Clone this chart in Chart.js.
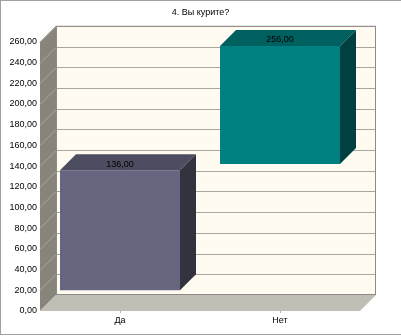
<!DOCTYPE html>
<html>
<head>
<meta charset="utf-8">
<script src="https://cdn.jsdelivr.net/npm/chart.js@4.4.0/dist/chart.umd.min.js"></script>
<style>
  html, body { margin: 0; padding: 0; background: #fff; }
  canvas { display: block; }
</style>
</head>
<body>
<canvas id="c" width="401" height="336"></canvas>
<script>
// Survey question and answers
const title = '4. Вы курите?';
const categories = ['Да', 'Нет'];
// Each box spans from its lower edge to the answer count
const barBottoms = [20, 142];
const barTops = [136, 256];
// Value axis
const yMin = 0;
const yMax = 260;
const yStep = 20;

const frontColors = ['#666680', '#008080'];
const topColors = ['#4d4d61', '#006060'];
const sideColors = ['#33333f', '#004040'];

const DEPTH = 16;
const FONT = '"Liberation Sans", Arial, sans-serif';

function fmt(v) {
  return v.toFixed(2).replace('.', ',');
}

// Back wall, left wall, floor and gridlines drawn with a depth offset
const walls = {
  id: 'walls',
  beforeDatasetsDraw(chart) {
    const { ctx, chartArea: a, scales: { y } } = chart;
    const d = DEPTH;
    ctx.save();
    // back wall
    ctx.fillStyle = '#fffbf0';
    ctx.fillRect(a.left + d, a.top - d, a.right - a.left, a.bottom - a.top);
    // left wall
    ctx.fillStyle = '#86847b';
    ctx.beginPath();
    ctx.moveTo(a.left, a.top);
    ctx.lineTo(a.left + d, a.top - d);
    ctx.lineTo(a.left + d, a.bottom - d);
    ctx.lineTo(a.left, a.bottom);
    ctx.closePath();
    ctx.fill();
    // floor
    ctx.fillStyle = '#c1beb5';
    ctx.beginPath();
    ctx.moveTo(a.left, a.bottom);
    ctx.lineTo(a.left + d, a.bottom - d);
    ctx.lineTo(a.right + d, a.bottom - d);
    ctx.lineTo(a.right, a.bottom);
    ctx.closePath();
    ctx.fill();
    // gridlines
    ctx.lineWidth = 1;
    for (let v = yMin + yStep; v <= yMax; v += yStep) {
      const py = Math.round(y.getPixelForValue(v)) + 0.5;
      ctx.strokeStyle = '#a8a6a2';
      ctx.beginPath();
      ctx.moveTo(a.left + d, py - d);
      ctx.lineTo(a.right + d, py - d);
      ctx.stroke();
      ctx.strokeStyle = '#aaa89f';
      ctx.beginPath();
      ctx.moveTo(a.left, py);
      ctx.lineTo(a.left + d, py - d);
      ctx.stroke();
    }
    // back wall outline
    ctx.strokeStyle = '#8c8a86';
    ctx.strokeRect(a.left + d + 0.5, a.top - d + 0.5, a.right - a.left - 1, a.bottom - a.top - 1);
    // category tick marks
    const x = chart.scales.x;
    ctx.strokeStyle = '#b0b0b0';
    categories.forEach((c, i) => {
      const px = Math.round(x.getPixelForValue(i)) + 0.5;
      ctx.beginPath();
      ctx.moveTo(px, a.bottom);
      ctx.lineTo(px, a.bottom + 2);
      ctx.stroke();
    });
    ctx.restore();
  },
  afterDatasetsDraw(chart) {
    const { ctx } = chart;
    const d = DEPTH;
    const meta = chart.getDatasetMeta(0);
    ctx.save();
    meta.data.forEach((bar, i) => {
      const { x, y, base, width } = bar.getProps(['x', 'y', 'base', 'width'], true);
      const l = x - width / 2, r = x + width / 2;
      const top = Math.min(y, base), bot = Math.max(y, base);
      // top face
      ctx.fillStyle = topColors[i];
      ctx.beginPath();
      ctx.moveTo(l, top);
      ctx.lineTo(l + d, top - d);
      ctx.lineTo(r + d, top - d);
      ctx.lineTo(r, top);
      ctx.closePath();
      ctx.fill();
      // side face
      ctx.fillStyle = sideColors[i];
      ctx.beginPath();
      ctx.moveTo(r, top);
      ctx.lineTo(r + d, top - d);
      ctx.lineTo(r + d, bot - d);
      ctx.lineTo(r, bot);
      ctx.closePath();
      ctx.fill();
      // value label
      ctx.fillStyle = '#000';
      ctx.font = '9px ' + FONT;
      ctx.textAlign = 'center';
      ctx.textBaseline = 'middle';
      ctx.fillText(fmt(barTops[i]), x, top - 6);
    });
    ctx.restore();
  },
  afterDraw(chart) {
    const { ctx } = chart;
    ctx.save();
    ctx.strokeStyle = '#a0a0a0';
    ctx.lineWidth = 1;
    ctx.strokeRect(0.5, 0.5, 401, 334);
    ctx.restore();
  }
};

new Chart(document.getElementById('c'), {
  type: 'bar',
  data: {
    labels: categories,
    datasets: [{
      data: categories.map((c, i) => [barBottoms[i], barTops[i]]),
      backgroundColor: frontColors,
      borderWidth: 0,
      barPercentage: 0.75,
      categoryPercentage: 1
    }]
  },
  options: {
    responsive: false,
    animation: false,
    devicePixelRatio: 1,
    layout: { padding: 0 },
    plugins: {
      legend: { display: false },
      tooltip: { enabled: false },
      title: {
        display: true,
        text: title,
        color: '#000',
        font: { family: FONT, size: 9, weight: 'normal' },
        padding: { top: 7, bottom: 24 }
      }
    },
    scales: {
      x: {
        grid: { display: false, drawTicks: false },
        border: { display: false },
        ticks: { color: '#000', font: { family: FONT, size: 9 }, padding: 4 },
        afterFit(s) { s.height = 25; }
      },
      y: {
        min: yMin,
        max: yMax,
        grid: { display: false, drawTicks: false },
        border: { display: false },
        ticks: {
          stepSize: yStep,
          color: '#000',
          font: { family: FONT, size: 9 },
          padding: 3,
          callback: (v) => fmt(v)
        },
        afterFit(s) { s.width = 40; }
      },
      // empty right-hand margin that leaves room for the wall depth
      yRight: {
        position: 'right',
        min: yMin,
        max: yMax,
        grid: { display: false, drawTicks: false },
        border: { display: false },
        ticks: { display: false },
        afterFit(s) { s.width = 41; }
      }
    }
  },
  plugins: [walls]
});
</script>
</body>
</html>
